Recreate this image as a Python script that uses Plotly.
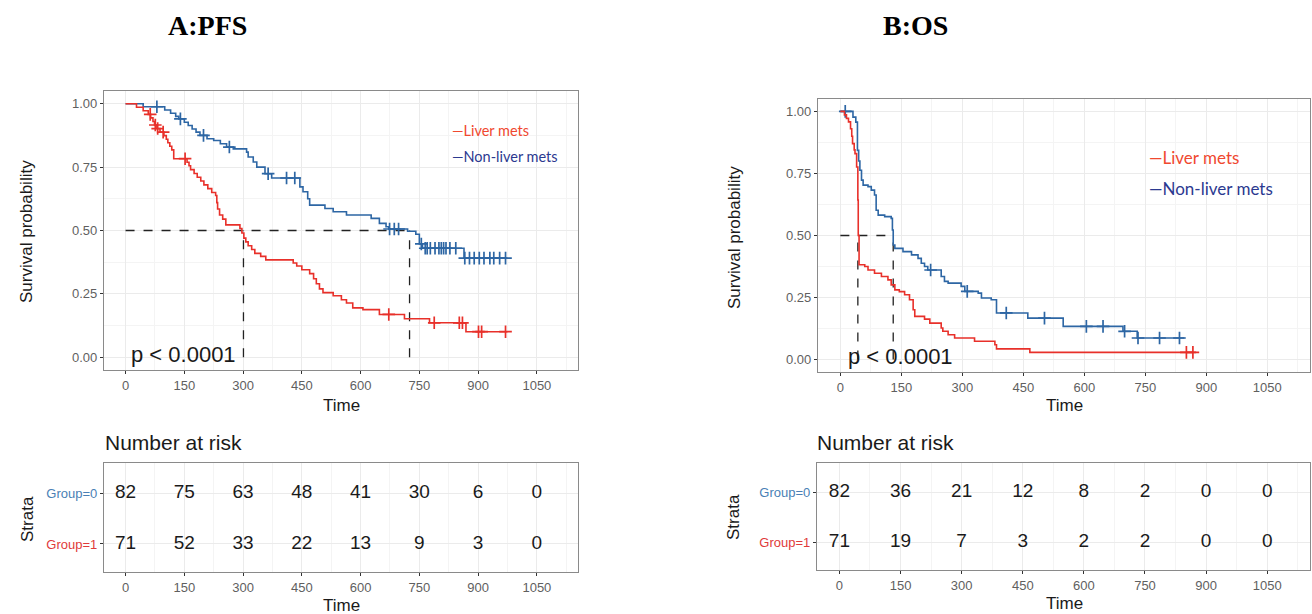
import numpy as np
import plotly.graph_objects as go

# ---------------- data ----------------
# Panel A: PFS  (step change points: time, survival)
pfs_liver_t = [0, 28, 45, 58, 64, 70, 74, 80, 88, 98, 104, 108, 113, 118, 123, 157, 162, 166, 175, 183,
               192, 200, 210, 220, 230, 233, 235, 240, 248, 256, 292, 297, 302, 307, 313, 322, 330, 345, 358, 428,
               437, 450, 470, 480, 487, 495, 504, 530, 551, 564, 580, 606, 648, 712, 776, 869, 975]
pfs_liver_s = [1.0, 0.986, 0.972, 0.958, 0.944, 0.930, 0.916, 0.902, 0.888, 0.874, 0.860, 0.846, 0.832, 0.818, 0.783,
               0.769, 0.755, 0.740, 0.725, 0.710, 0.695, 0.680, 0.665, 0.650, 0.638, 0.610, 0.585, 0.561, 0.545, 0.522,
               0.508, 0.490, 0.470, 0.455, 0.440, 0.425, 0.410, 0.398, 0.384, 0.372, 0.360, 0.345, 0.330, 0.310, 0.290,
               0.270, 0.255, 0.243, 0.227, 0.214, 0.195, 0.188, 0.169, 0.152, 0.136, 0.101, 0.101]
pfs_liver_cens = [63, 76, 82, 96, 152, 672, 788, 852, 860, 901, 909, 970]

pfs_non_t = [0, 45, 100, 115, 128, 136, 150, 160, 170, 180, 190, 208, 225, 242, 258, 275, 309, 313, 326, 335,
             356, 373, 445, 453, 465, 470, 509, 530, 564, 627, 648, 665, 672, 720, 741, 750, 758, 864, 975]
pfs_non_s = [1.0, 0.988, 0.975, 0.962, 0.950, 0.940, 0.927, 0.914, 0.900, 0.888, 0.875, 0.862, 0.855, 0.842, 0.829,
             0.822, 0.809, 0.790, 0.770, 0.750, 0.724, 0.707, 0.672, 0.653, 0.625, 0.600, 0.587, 0.574, 0.561, 0.548,
             0.528, 0.515, 0.506, 0.497, 0.485, 0.447, 0.430, 0.391, 0.391]
pfs_non_cens = [80, 140, 199, 265, 364, 411, 432, 674, 686, 697, 755, 765, 770, 778, 790, 800, 806, 812, 818, 828,
                843, 866, 878, 890, 903, 915, 930, 940, 955, 970]
pfs_medians = [301, 725]

# Panel B: OS
os_liver_t = [0, 10, 15, 20, 25, 28, 30, 34, 36, 40, 43, 44, 46, 60, 68, 84, 101, 117, 125, 134,
              145, 158, 170, 179, 183, 207, 220, 248, 252, 265, 281, 330, 380, 384, 466, 875]
os_liver_s = [1.0, 0.986, 0.972, 0.958, 0.930, 0.900, 0.870, 0.845, 0.830, 0.776, 0.643, 0.500, 0.382, 0.375, 0.361,
              0.348, 0.335, 0.321, 0.301, 0.281, 0.274, 0.261, 0.241, 0.201, 0.174, 0.163, 0.147, 0.127, 0.114, 0.100,
              0.087, 0.074, 0.060, 0.043, 0.029, 0.029]
os_liver_cens = [851, 867]

os_non_t = [0, 31, 38, 42, 45, 48, 52, 56, 68, 76, 84, 88, 93, 109, 125, 128, 130, 134, 154, 175,
            191, 199, 207, 215, 248, 256, 265, 297, 306, 339, 347, 371, 384, 461, 548, 695, 730, 846]
os_non_s = [1.0, 0.977, 0.957, 0.843, 0.800, 0.763, 0.723, 0.703, 0.697, 0.683, 0.663, 0.602, 0.582, 0.576, 0.569,
            0.522, 0.462, 0.448, 0.435, 0.422, 0.408, 0.388, 0.375, 0.361, 0.335, 0.315, 0.308, 0.295, 0.275, 0.268,
            0.248, 0.241, 0.188, 0.167, 0.134, 0.114, 0.087, 0.087]
os_non_cens = [12, 222, 312, 408, 502, 605, 646, 699, 732, 785, 834]
os_medians = [43, 130]

# Risk tables
risk_times = [0, 150, 300, 450, 600, 750, 900, 1050]
pfs_risk_g0 = [82, 75, 63, 48, 41, 30, 6, 0]
pfs_risk_g1 = [71, 52, 33, 22, 13, 9, 3, 0]
os_risk_g0 = [82, 36, 21, 12, 8, 2, 0, 0]
os_risk_g1 = [71, 19, 7, 3, 2, 2, 0, 0]

x_ticks = [0, 150, 300, 450, 600, 750, 900, 1050]
x_minor = [75, 225, 375, 525, 675, 825, 975, 1125]
y_ticks = [0, 0.25, 0.5, 0.75, 1.0]
y_ticklabels = ["0.00", "0.25", "0.50", "0.75", "1.00"]
y_minor = [0.125, 0.375, 0.625, 0.875]

# ---------------- style ----------------
RED = "#e8302a"
BLUE = "#2d66a4"
LEG_RED = "#f0482f"
LEG_BLUE = "#2b3990"
GRID = "#ebebeb"
MINOR = "#f4f4f4"
FRAME = "#8a8a8a"
TICKC = "#5f5f5f"
W, H = 1312, 614


def px2x(px):
    return px / W


def py2y(py):
    return 1 - py / H


fig = go.Figure()


def step_value(t, s, c):
    t = np.asarray(t)
    s = np.asarray(s)
    idx = np.searchsorted(t, c, side="right") - 1
    return s[idx]


def add_km(t, s, cens, color, xa, ya):
    fig.add_trace(go.Scatter(x=t, y=s, mode="lines", line=dict(shape="hv", color=color, width=1.6),
                             xaxis=xa, yaxis=ya, showlegend=False, hoverinfo="skip"))
    cy = step_value(t, s, np.asarray(cens))
    fig.add_trace(go.Scatter(x=cens, y=cy, mode="markers",
                             marker=dict(symbol="cross-thin", size=9, line=dict(width=1.7, color=color)),
                             xaxis=xa, yaxis=ya, showlegend=False, hoverinfo="skip"))


def add_medians(meds, xa, ya):
    fig.add_trace(go.Scatter(x=[0, max(meds)], y=[0.5, 0.5], mode="lines",
                             line=dict(color="#222222", width=1.3, dash="dash"),
                             xaxis=xa, yaxis=ya, showlegend=False, hoverinfo="skip"))
    for m in meds:
        fig.add_trace(go.Scatter(x=[m, m], y=[0, 0.5], mode="lines",
                                 line=dict(color="#222222", width=1.3, dash="dash"),
                                 xaxis=xa, yaxis=ya, showlegend=False, hoverinfo="skip"))


# Panel A
add_medians(pfs_medians, "x", "y")
add_km(pfs_non_t, pfs_non_s, pfs_non_cens, BLUE, "x", "y")
add_km(pfs_liver_t, pfs_liver_s, pfs_liver_cens, RED, "x", "y")
# Panel B
add_medians(os_medians, "x3", "y3")
add_km(os_non_t, os_non_s, os_non_cens, BLUE, "x3", "y3")
add_km(os_liver_t, os_liver_s, os_liver_cens, RED, "x3", "y3")

# Risk tables
for g0, g1, xa, ya in [(pfs_risk_g0, pfs_risk_g1, "x2", "y2"), (os_risk_g0, os_risk_g1, "x4", "y4")]:
    fig.add_trace(go.Scatter(x=risk_times, y=[1] * len(risk_times), mode="text",
                             text=[str(v) for v in g0], textposition="middle center",
                             textfont=dict(size=19, color="#1a1a1a", family="Liberation Sans"),
                             xaxis=xa, yaxis=ya, showlegend=False, hoverinfo="skip"))
    fig.add_trace(go.Scatter(x=risk_times, y=[0] * len(risk_times), mode="text",
                             text=[str(v) for v in g1], textposition="middle center",
                             textfont=dict(size=19, color="#1a1a1a", family="Liberation Sans"),
                             xaxis=xa, yaxis=ya, showlegend=False, hoverinfo="skip"))

common_x = dict(range=[-55, 1155], tickmode="array", tickvals=x_ticks, ticktext=[str(v) for v in x_ticks],
                ticks="outside", ticklen=3, tickwidth=1, tickcolor="#333333",
                tickfont=dict(size=13, color=TICKC, family="Liberation Sans"),
                showgrid=True, gridcolor=GRID, gridwidth=1,
                minor=dict(tickmode="array", tickvals=x_minor, showgrid=True, gridcolor=MINOR, gridwidth=0.8, ticks=""),
                zeroline=False, showline=True, mirror=True, linecolor=FRAME, linewidth=1.2, fixedrange=True)
common_y = dict(range=[-0.05, 1.05], tickmode="array", tickvals=y_ticks, ticktext=y_ticklabels,
                ticks="outside", ticklen=3, tickwidth=1, tickcolor="#333333",
                tickfont=dict(size=13, color=TICKC, family="Liberation Sans"),
                showgrid=True, gridcolor=GRID, gridwidth=1,
                minor=dict(tickmode="array", tickvals=y_minor, showgrid=True, gridcolor=MINOR, gridwidth=0.8, ticks=""),
                zeroline=False, showline=True, mirror=True, linecolor=FRAME, linewidth=1.2, fixedrange=True)
table_y = dict(range=[-0.55, 1.59], tickmode="array", tickvals=[1, 0],
               ticktext=["<span style='color:#4a7fb5'>Group=0</span>", "<span style='color:#e03a3a'>Group=1</span>"],
               ticks="outside", ticklen=3, tickwidth=1, tickcolor="#333333",
               tickfont=dict(size=13, family="Liberation Sans"),
               showgrid=True, gridcolor=GRID, gridwidth=1,
               zeroline=False, showline=True, mirror=True, linecolor=FRAME, linewidth=1.2, fixedrange=True)

fig.update_layout(
    width=W, height=H, margin=dict(l=0, r=0, t=0, b=0),
    paper_bgcolor="white", plot_bgcolor="white", showlegend=False,
    xaxis=dict(common_x, domain=[px2x(104), px2x(578)], anchor="y"),
    yaxis=dict(common_y, domain=[py2y(370), py2y(91)], anchor="x"),
    xaxis2=dict(common_x, domain=[px2x(104), px2x(578)], anchor="y2"),
    yaxis2=dict(table_y, domain=[py2y(572), py2y(463)], anchor="x2"),
    xaxis3=dict(common_x, domain=[px2x(818), px2x(1310)], anchor="y3"),
    yaxis3=dict(common_y, domain=[py2y(372), py2y(99)], anchor="x3"),
    xaxis4=dict(common_x, domain=[px2x(817), px2x(1310)], anchor="y4"),
    yaxis4=dict(table_y, domain=[py2y(570), py2y(463)], anchor="x4"),
)

ann = []


def text(x, y, s, size, color="#1a1a1a", family="Liberation Sans", xanchor="center", angle=0):
    ann.append(dict(x=px2x(x), y=py2y(y), xref="paper", yref="paper", text=s, showarrow=False,
                    xanchor=xanchor, yanchor="middle", textangle=angle,
                    font=dict(size=size, color=color, family=family)))


# titles
text(207, 25, "<b>A:PFS</b>", 28, "#000000", "Liberation Serif")
text(916, 25, "<b>B:OS</b>", 28, "#000000", "Liberation Serif")
# axis titles
text(27, 232, "Survival probability", 17, angle=-90)
text(735, 238, "Survival probability", 17, angle=-90)
text(341, 405, "Time", 17)
text(1064, 405, "Time", 17)
text(341, 605, "Time", 17)
text(1064, 603, "Time", 17)
text(27, 519, "Strata", 17, angle=-90)
text(733, 517, "Strata", 17, angle=-90)
text(103, 442, "Number at risk", 21, xanchor="left")
text(815, 442, "Number at risk", 21, xanchor="left")
# p values
text(183, 354, "p < 0.0001", 22)
text(900, 356, "p < 0.0001", 22)
# legends
text(450, 130, "—Liver mets", 14.5, LEG_RED, "Lato", xanchor="left")
text(450, 156, "—Non-liver mets", 14.5, LEG_BLUE, "Lato", xanchor="left")
text(1147, 157, "—Liver mets", 17, LEG_RED, "Lato", xanchor="left")
text(1147, 188, "—Non-liver mets", 17, LEG_BLUE, "Lato", xanchor="left")

fig.update_layout(annotations=ann)
fig.write_html("out.html", config={"displayModeBar": False},
               post_script="document.body.style.margin='0';document.body.style.overflow='hidden';")
